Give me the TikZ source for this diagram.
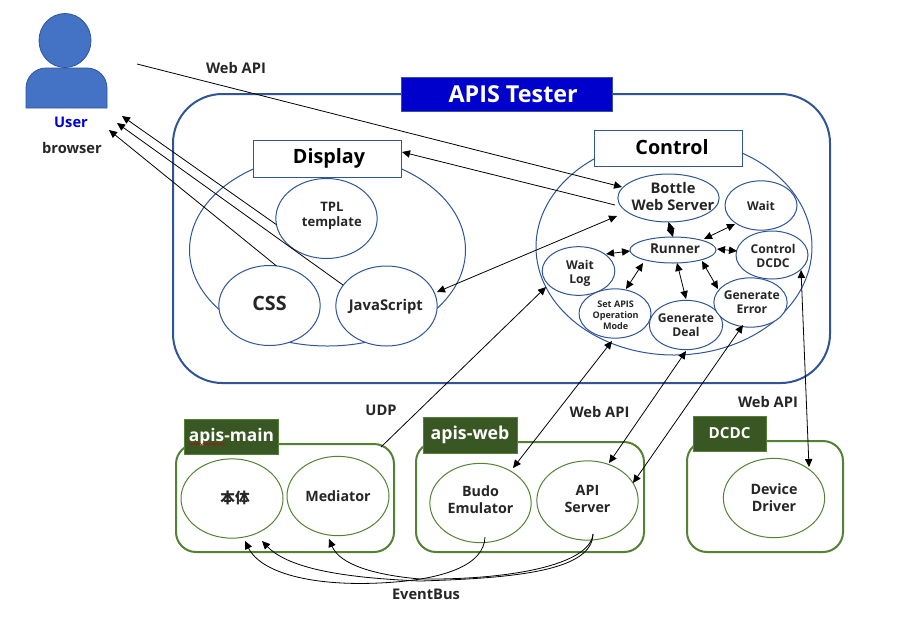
\documentclass[tikz,border=0pt]{standalone}
\usepackage{fontspec}
\setmainfont{Open Sans}
\newfontfamily\cjkfont{Noto Sans CJK JP}
\usetikzlibrary{shapes.geometric,arrows.meta,decorations.pathmorphing}
\newcommand{\fs}[1]{\fontsize{#1}{\fpeval{1.2*#1}}\bfseries\selectfont}
% zero-sized text block: keeps the ellipse at its minimum size; #1 doubled x shift, #2 raise
\newcommand{\tx}[3]{\makebox[0pt]{\hspace*{#1}\raisebox{\dimexpr #2-4.1pt\relax}[0pt][0pt]{\begin{tabular}{@{}c@{}}#3\end{tabular}}}}
\definecolor{bluelin}{HTML}{2F5597}
\definecolor{greenlin}{HTML}{548235}
\definecolor{greenfill}{HTML}{385723}
\definecolor{userfill}{HTML}{4472C4}
\tikzset{
  x=0.75pt,y=-0.75pt,
  lbl/.style={inner sep=0,align=center,text=black!85,font=\fs{11}},
  big/.style={ellipse,draw=bluelin,line width=0.75pt,inner sep=0,outer sep=0},
  bell/.style={ellipse,draw=bluelin,fill=white,line width=0.75pt,inner sep=0,outer sep=0,font=\fs{9.1},text=black!85},
  gell/.style={ellipse,draw=greenlin,line width=0.75pt,inner sep=0,outer sep=0,font=\fs{10.7},text=black!85},
  frame/.style={rounded corners=#1,line width=1.5pt},
  titlebox/.style={draw=bluelin,fill=white,line width=0.75pt,inner sep=0,outer sep=0,font=\fs{14.8},text=black},
  grhead/.style={fill=greenfill,draw=greenlin,line width=0.75pt,inner sep=0,outer sep=0,text=white,font=\fs{13}},
  two/.style={{Triangle[length=6pt,width=5.5pt]}-{Triangle[length=6pt,width=5.5pt]},line width=0.6pt,black},
  one/.style={-{Triangle[length=6pt,width=5.5pt]},line width=0.6pt,black},
}
\begin{document}
\begin{tikzpicture}
\useasboundingbox (0,0) rectangle (923,619);
\fill[white] (0,0) rectangle (923,619);

% user
\fill[userfill,draw=bluelin,line width=0.6pt] (26,108) -- (26,88) arc[start angle=180,end angle=270,x radius=20,y radius=20] -- (87,68) arc[start angle=270,end angle=360,x radius=20,y radius=20] -- (107,108) -- cycle;
\node[ellipse,fill=userfill,draw=bluelin,line width=0.6pt,minimum width=39pt,minimum height=40.5pt,inner sep=0] (head) at (65,40.5) {};
\node[lbl,text=blue!85!black] (user) at (71,122) {User};
\node[lbl] (browser) at (72,148) {browser};

% frames
\draw[bluelin,frame=37pt] (173,94) rectangle (830,383);
\node[draw=bluelin,fill=blue!80!black,minimum width=158.25pt,minimum height=25.5pt,inner sep=0,text=white,font=\fs{17.5}] (tester) at (506.5,94) {\hspace{10pt}APIS Tester};

% display
\node[big,minimum width=207pt,minimum height=144pt] (dispell) at (327.5,250) {};
\node[titlebox,minimum width=111pt,minimum height=27.75pt] (display) at (327,158.5) {\hspace*{3pt}\raisebox{-1pt}{Display}};
\node[bell,minimum width=76pt,minimum height=60pt,font=\fs{9.8}] (tpl) at (326.5,218.5) {\tx{8pt}{3.5pt}{TPL\\template}};
\node[bell,minimum width=76pt,minimum height=60pt,font=\fs{14.8}] (css) at (269.5,305.5) {\tx{0pt}{0pt}{CSS}};
\node[bell,minimum width=76pt,minimum height=60pt,font=\fs{11.1}] (js) at (386.5,306) {\tx{-1pt}{0.5pt}{JavaScript}};

% control
\node[big,minimum width=207pt,minimum height=162pt] (ctlell) at (674,247) {};
\node[titlebox,minimum width=111pt,minimum height=27pt] (control) at (668,148) {\hspace*{6pt}\raisebox{1.5pt}{Control}};
\node[bell,minimum width=76pt,minimum height=36pt,font=\fs{11}] (bottle) at (668.5,198) {\tx{6.8pt}{1pt}{Bottle\\Web Server}};
\node[bell,minimum width=54pt,minimum height=37pt] (wait) at (761,205.5) {\tx{0pt}{0pt}{Wait}};
\node[bell,minimum width=64.5pt,minimum height=19.5pt,font=\fs{10.2}] (runner) at (673,250) {\tx{3pt}{1.5pt}{Runner}};
\node[bell,minimum width=54pt,minimum height=36pt] (dcdcctl) at (772,255) {\tx{1.5pt}{0pt}{Control\\DCDC}};
\node[bell,minimum width=54.5pt,minimum height=36.5pt] (waitlog) at (578.5,271) {\tx{2.2pt}{0pt}{Wait\\Log}};
\node[bell,minimum width=54pt,minimum height=37pt,font=\fs{6.8}] (setapis) at (615,313.5) {\tx{1pt}{0pt}{Set APIS\\Operation\\Mode}};
\node[bell,minimum width=55pt,minimum height=37pt] (deal) at (686,325) {\tx{0pt}{0.7pt}{Generate\\Deal}};
\node[bell,minimum width=55pt,minimum height=37pt] (error) at (750.5,302.5) {\tx{2pt}{1pt}{Generate\\Error}};

% bottom frames
\draw[greenlin,frame=15pt] (176,444) rectangle (394,552);
\draw[greenlin,frame=15pt] (416,442) rectangle (644,552);
\draw[greenlin,frame=15pt] (687,441) rectangle (843,552);
\node[grhead,minimum width=71pt,minimum height=26.25pt] (hmain) at (231.5,436.5) {apis-main};
\node[grhead,minimum width=70.5pt,minimum height=27pt,font=\fs{13.3}] (hweb) at (470,435) {apis-web\hspace{7pt}};
\node[grhead,minimum width=54.75pt,minimum height=26.25pt,font=\fs{11.4}] (hdcdc) at (729.5,433.5) {DCDC};
\draw[red!80!black,line width=0.4pt,decorate,decoration={snake,amplitude=0.5pt,segment length=2.5pt}] (189,444) -- (225,444);

\node[gell,minimum width=76.5pt,minimum height=59.5pt,font=\cjkfont\fs{11}] (honbody) at (232,498.5) {\tx{4.5pt}{0pt}{本体}};
\node[gell,minimum width=76.5pt,minimum height=59.5pt] (mediator) at (338,496) {\tx{0pt}{0pt}{Mediator}};
\node[gell,minimum width=76pt,minimum height=59.5pt] (budo) at (480.5,503) {\tx{0pt}{2.6pt}{Budo\\Emulator}};
\node[gell,minimum width=76pt,minimum height=59.5pt] (api) at (587.5,500.5) {\tx{0pt}{1.3pt}{API\\Server}};
\node[gell,minimum width=76pt,minimum height=59.5pt] (device) at (774,498) {\tx{0pt}{0.4pt}{Device\\Driver}};

% labels
\node[lbl] (lwebapi1) at (236,68) {Web API};
\node[lbl] (ludp) at (381,410) {UDP};
\node[lbl] (lwebapi2) at (599.5,412) {Web API};
\node[lbl] (lwebapi3) at (768,402) {Web API};
\node[lbl] (leb) at (426,594) {EventBus};

% free ends
\coordinate (uweb) at (137,64);
\coordinate (b1) at (122,116);
\coordinate (b2) at (117,123);
\coordinate (b3) at (109,130);
\coordinate (bw1) at (622,187);
\coordinate (bw2) at (615,205);
\coordinate (bw3) at (617,216);
\coordinate (dispr) at (402,152);
\coordinate (mainc) at (381,447);
\coordinate (wl) at (546,287);

% upper connectors
\draw[one] (uweb) -- (bw1);
\draw[one] (bw2) -- (dispr);
\draw[two] (bw3) -- (437,292);
\draw[one] (tpl.187) -- (b1);
\draw[one] (343,285) -- (b2);
\draw[one] (css.80) -- (b3);
\draw[two] (bottle.south) -- (runner.north);
\draw[two] (704,239) -- (735,224);
\draw[two] (717,249) -- (737,251);
\draw[two] (630,251) -- (606,254);
\draw[two] (643,263) -- (626,289);
\draw[two] (677,263) -- (686,299);
\draw[two] (702,261) -- (718,289);

% system links
\draw[one] (mainc) -- (wl);
\draw[two] (612,341) -- (513,468);
\draw[two] (686,351) -- (609,463);
\draw[two] (743,325) -- (633,483);
\draw[two] (801,270) -- (809,467);

% event bus
\draw[one] (485,537) .. controls (484,565) and (445,578) .. (395,582) .. controls (320,588) and (262,575) .. (245,541);
\draw[one] (593,534) .. controls (592,570) and (520,578) .. (420,581) .. controls (350,578) and (290,570) .. (262,541);
\draw[one] (593,534) .. controls (590,565) and (510,580) .. (420,579) .. controls (375,575) and (340,565) .. (329,539);
\end{tikzpicture}
\end{document}
